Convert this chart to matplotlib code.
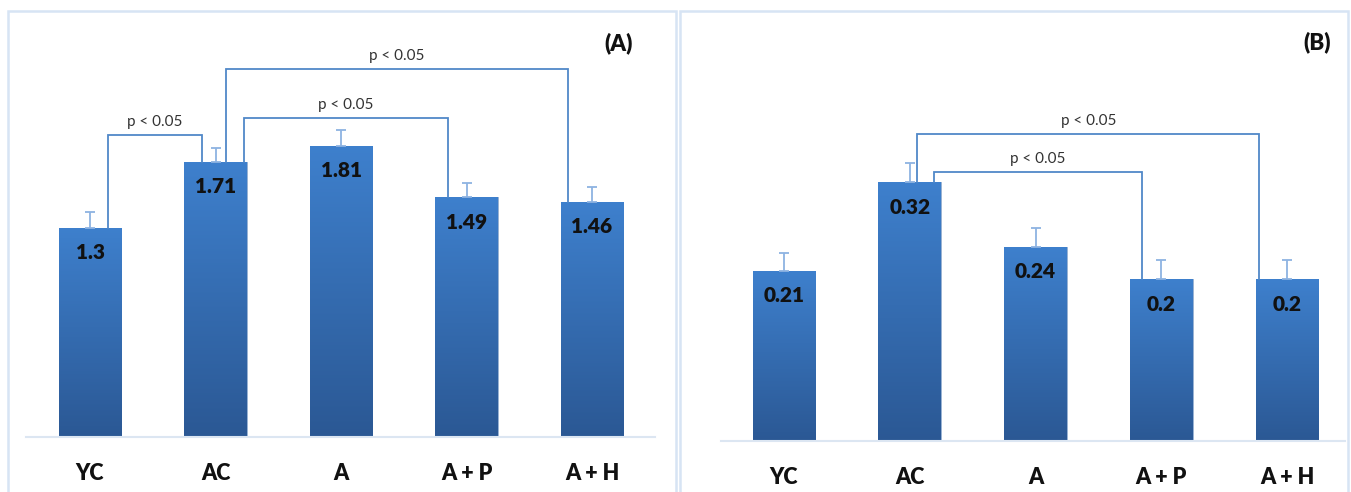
import numpy as np
import matplotlib
matplotlib.use('Agg')
import matplotlib.pyplot as plt
from matplotlib.colors import LinearSegmentedColormap
from matplotlib.patches import Rectangle

plt.rcParams['font.family'] = ['Lato', 'DejaVu Sans']

groups = ['YC', 'AC', 'A', 'A + P', 'A + H']

vals_a = [1.3, 1.71, 1.81, 1.49, 1.46]
err_a = [0.10, 0.09, 0.10, 0.09, 0.095]

vals_b = [0.21, 0.32, 0.24, 0.2, 0.2]
err_b = [0.023, 0.024, 0.023, 0.024, 0.024]

# significance brackets: (bar i, offset i, bar j, offset j, bracket height, text)
brackets_a = [
    (0, 0.14, 1, -0.11, 1.878, 'p < 0.05'),
    (1, 0.23, 3, -0.15, 1.984, 'p < 0.05'),
    (1, 0.08, 4, -0.19, 2.289, 'p < 0.05'),
]
brackets_b = [
    (1, 0.19, 3, -0.156, 0.3326, 'p < 0.05'),
    (1, 0.06, 4, -0.22, 0.380, 'p < 0.05'),
]

W, H = 1351, 492
BAR_TOP = '#3e80cd'
BAR_BOT = '#2b5894'
ERR_C = '#8db3e2'
LINE_C = '#5088c8'
FRAME_C = '#d7e4f4'

grad = LinearSegmentedColormap.from_list('bar', [BAR_BOT, BAR_TOP])


def draw_panel(ax, vals, errs, brackets, ylim, xlim):
    x = np.arange(len(groups))
    bars = ax.bar(x, vals, width=0.5, color='none', edgecolor='none', zorder=2)
    g = np.linspace(0, 1, 256).reshape(-1, 1)
    for b in bars:
        x0, w, h = b.get_x(), b.get_width(), b.get_height()
        im = ax.imshow(g, cmap=grad, origin='lower', aspect='auto',
                       extent=(x0, x0 + w, 0, h), zorder=2)
        im.set_clip_path(b)
        b.set_edgecolor('#4a78b0')
        b.set_linewidth(0.4)

    ax.errorbar(x, vals, yerr=[np.zeros(len(vals)), errs], fmt='none',
                ecolor=ERR_C, elinewidth=1.3, capsize=3.5, capthick=1.3, zorder=3)

    for xi, v in zip(x, vals):
        ax.annotate(f'{v:g}', (xi, v), xytext=(0, -22.5), textcoords='offset points',
                    ha='center', va='baseline', fontsize=15, fontweight='heavy',
                    color='#111111', zorder=5)

    for i, di, j, dj, y, txt in brackets:
        xl, xr = i + di, j + dj
        ax.plot([xl, xl, xr, xr], [vals[i], y, y, vals[j]], color=LINE_C,
                lw=1.3, zorder=4, solid_joinstyle='miter')
        ax.annotate(txt, ((xl + xr) / 2, y), xytext=(0, 6.5), textcoords='offset points',
                    ha='center', va='baseline', fontsize=11, color='#333333')

    ax.set_xlim(*xlim)
    ax.set_ylim(*ylim)
    ax.set_xticks(x)
    ax.set_xticklabels(groups, fontsize=15.5, fontweight='heavy', color='#111111')
    ax.tick_params(axis='x', length=0, pad=19)
    ax.set_yticks([])
    for s in ['top', 'right', 'left']:
        ax.spines[s].set_visible(False)
    ax.spines['bottom'].set_color('#dce6f2')
    ax.spines['bottom'].set_linewidth(1.5)
    ax.patch.set_alpha(0)


fig = plt.figure(figsize=(W / 100, H / 100), dpi=100)

# panel frames
for x0, x1 in [(7.5, 676), (679.5, 1347.5)]:
    fig.add_artist(Rectangle((x0 / W, -0.05), (x1 - x0) / W, 1.05 - 11 / H,
                             transform=fig.transFigure, fill=False,
                             ec=FRAME_C, lw=1.8))

ax_a = fig.add_axes([26 / W, (H - 437) / H, 629 / W, 417 / H])
draw_panel(ax_a, vals_a, err_a, brackets_a, (0, 417 / 160.8), (-0.51, 4.502))

ax_b = fig.add_axes([721 / W, (H - 440.7) / H, 624 / W, 420.7 / H])
draw_panel(ax_b, vals_b, err_b, brackets_b, (0, 420.7 / 807), (-0.501, 4.461))

fig.text(619 / W, 1 - 43 / H, '(A)', ha='center', va='center',
         fontsize=16, fontweight='heavy', color='#111111')
fig.text(1317 / W, 1 - 42 / H, '(B)', ha='center', va='center',
         fontsize=16, fontweight='heavy', color='#111111')

fig.savefig('out.png', dpi=100)
